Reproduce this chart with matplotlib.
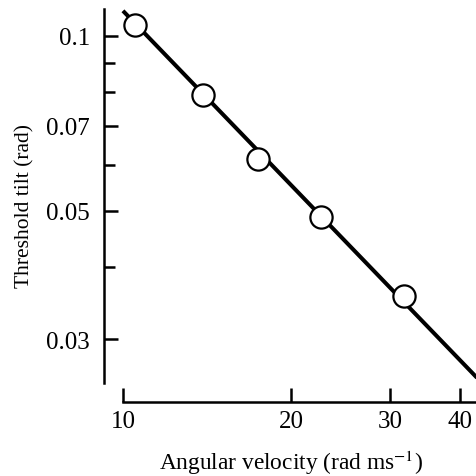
import matplotlib.pyplot as plt
from matplotlib.ticker import FixedLocator, NullFormatter

plt.rcParams['font.family'] = ['Liberation Serif', 'DejaVu Serif']
plt.rcParams['mathtext.fontset'] = 'stix'

# measured points
velocity = [10.5, 13.9, 17.4, 22.6, 31.8]
tilt = [0.1045, 0.0791, 0.0613, 0.0487, 0.0356]

# drawn regression line (slope about -1 on log-log)
fit_x = [10.0, 43.0]
fit_y = [0.1105, 0.0257]

x_ticks = [10, 20, 30, 40]
y_major = [0.03, 0.05, 0.07, 0.1]
y_minor = [0.04, 0.06, 0.08, 0.09]

fig = plt.figure(figsize=(4.77, 4.77), dpi=100)
ax = fig.add_axes([104 / 477, 1 - 403 / 477, 373 / 477, 393 / 477])

ax.plot(fit_x, fit_y, color='black', lw=2.9, solid_capstyle='butt', zorder=2)
ax.plot(velocity, tilt, 'o', ms=16, mfc='white', mec='black', mew=1.6, zorder=3)

ax.set_xscale('log')
ax.set_yscale('log')
ax.set_xlim(9.25, 42.9)
ax.set_ylim(0.0234, 0.1113)

ax.spines['top'].set_visible(False)
ax.spines['right'].set_visible(False)
ax.spines['left'].set_linewidth(1.8)
ax.spines['bottom'].set_linewidth(1.8)
ax.spines['left'].set_bounds(0.0252, 0.1113)
ax.spines['bottom'].set_bounds(10, 42.9)

ax.xaxis.set_major_locator(FixedLocator(x_ticks))
ax.xaxis.set_minor_locator(FixedLocator([]))
ax.set_xticklabels([str(t) for t in x_ticks])
ax.xaxis.set_minor_formatter(NullFormatter())

ax.yaxis.set_major_locator(FixedLocator(y_major))
ax.yaxis.set_minor_locator(FixedLocator(y_minor))
ax.set_yticklabels(['0.03', '0.05', '0.07', '0.1'])
ax.yaxis.set_minor_formatter(NullFormatter())

ax.tick_params(which='major', direction='in', length=10, width=1.8, labelsize=18)
ax.tick_params(which='minor', direction='in', length=8, width=1.8)
ax.tick_params(axis='y', which='major', pad=10)
ax.tick_params(axis='x', which='major', pad=6)

ax.set_xlabel('Angular velocity (rad ms$^{-1}$)', fontsize=16.8)
ax.xaxis.label.set_va('center')
ax.xaxis.set_label_coords(0.5, -0.153)

ax.set_ylabel('Threshold tilt (rad)', fontsize=15.5)
ax.yaxis.label.set_va('center')
ax.yaxis.set_label_coords(-0.212, 0.5)

fig.savefig('out.png', dpi=100)
